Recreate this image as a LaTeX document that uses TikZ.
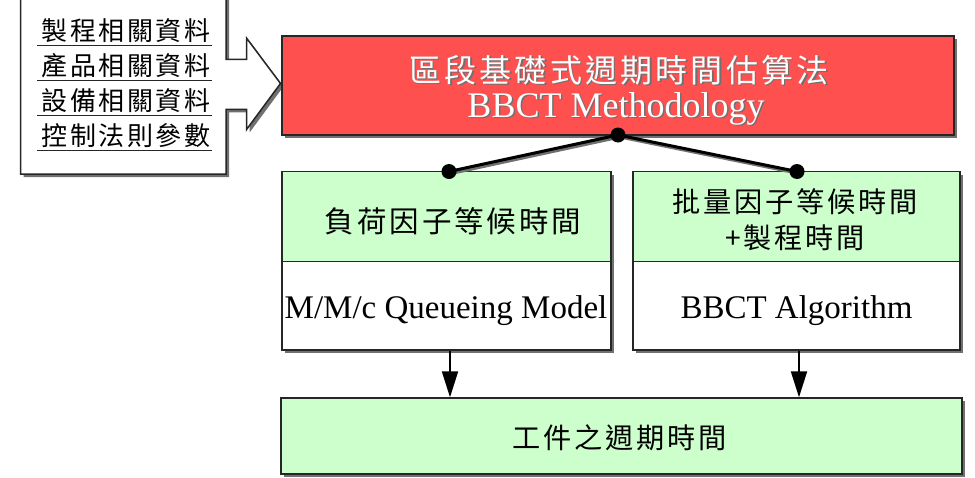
\documentclass[tikz,border=0pt]{standalone}
\usepackage{fontspec}
\setmainfont{Liberation Serif}
\newfontfamily\cjk[LetterSpace=10]{Noto Sans CJK TC}
\usetikzlibrary{arrows.meta,shadows}
\definecolor{redfill}{HTML}{FF5050}
\definecolor{greenfill}{HTML}{CCFFCC}
\definecolor{edge}{HTML}{262626}
\definecolor{shade}{HTML}{707070}
\begin{document}
\begin{tikzpicture}[x=1pt,y=-1pt,
  sh/.style={drop shadow={shadow xshift=3pt,shadow yshift=-3pt,fill=shade,opacity=1}},
  box/.style={draw=edge,line width=1.4pt,rectangle,inner sep=0pt,sh},
  redbox/.style={box,fill=redfill},
  greenbox/.style={box,fill=greenfill},
  whitebox/.style={box,fill=white},
  cjkA/.style={font=\cjk\fontsize{26}{30}\selectfont,inner sep=0pt},
  cjkR/.style={font=\cjk\fontsize{32}{36}\selectfont,inner sep=0pt},
  cjkG/.style={font=\cjk\fontsize{29.5}{34}\selectfont,inner sep=0pt},
  cjkB/.style={font=\cjk\fontsize{28.2}{33}\selectfont,inner sep=0pt},
  latin/.style={font=\fontsize{33}{38}\selectfont,inner sep=0pt,anchor=base},
  latinR/.style={font=\fontsize{36}{40}\selectfont,inner sep=0pt,anchor=base},
  uline/.style={draw=edge,line width=1.3pt},
  conn/.style={draw=black,line width=3pt},
  dotnode/.style={circle,fill=black,minimum size=15pt,inner sep=0pt},
  arr/.style={draw=black,line width=2pt,-{Triangle[width=16pt,length=26pt]}}
]
\clip (0,0) rectangle (975,477);
\fill[white] (0,0) rectangle (975,477);

% input callout
\draw[draw=edge,line width=1.5pt,fill=white,sh,line join=miter]
  (20.7,-10) -- (226,-10) -- (226,59.3) -- (246.7,59.3) -- (246.7,38.3)
  -- (280.5,83.5) -- (246.7,129.3) -- (246.7,109.3) -- (226,109.3)
  -- (226,174) -- (20.7,174) -- cycle;
\node[cjkA] (in1) at (126,31) {製程相關資料};
\node[cjkA] (in2) at (126,66) {產品相關資料};
\node[cjkA] (in3) at (126,101) {設備相關資料};
\node[cjkA] (in4) at (126,136) {控制法則參數};
\draw[uline] (37,45.7) -- (212,45.7);
\draw[uline] (37,80.5) -- (212,80.5);
\draw[uline] (37,115.7) -- (212,115.7);
\draw[uline] (37,150.7) -- (212,150.7);

% main red box
\node[redbox,minimum width=672pt,minimum height=99pt] (main) at (618,85.5) {};
\node[cjkR,text=shade] (mainzhS) at (620.5,71.5) {區段基礎式週期時間估算法};
\node[cjkR,text=white] (mainzh) at (619,70) {區段基礎式週期時間估算法};
\node[latinR,text=shade] (mainenS) at (617.5,118.5) {BBCT Methodology};
\node[latinR,text=white] (mainen) at (616,117) {BBCT Methodology};

% left column
\node[greenbox,minimum width=329pt,minimum height=90pt] (lg) at (446.5,216.7) {};
\node[whitebox,minimum width=329pt,minimum height=88.3pt] (lw) at (446.5,305.85) {};
\node[cjkG] (lgt) at (453,221.7) {負荷因子等候時間};
\node[latin] (lwt) at (446,318) {M/M/c Queueing Model};

% right column
\node[greenbox,minimum width=327pt,minimum height=90pt] (rg) at (796.5,216.7) {};
\node[whitebox,minimum width=327pt,minimum height=88.3pt] (rw) at (796.5,305.85) {};
\node[cjkB] (rgt1) at (795,201.7) {批量因子等候時間};
\node[cjkB] (rgt2) at (795,238) {+製程時間};
\node[latin] (rwt) at (796.5,318) {BBCT Algorithm};

% bottom box
\node[greenbox,minimum width=681pt,minimum height=76pt] (out) at (621.5,436) {};
\node[cjkB] (outt) at (620,438) {工件之週期時間};

% tree connectors
\coordinate (jc) at (618,135);
\coordinate (lc) at (449,171.5);
\coordinate (rc) at (797,171.5);
\draw[conn,draw=shade] ([shift={(2,2)}]jc) -- ([shift={(2,2)}]lc);
\draw[conn,draw=shade] ([shift={(2,2)}]jc) -- ([shift={(2,2)}]rc);
\draw[conn] (jc) -- (lc);
\draw[conn] (jc) -- (rc);
\node[dotnode] (jd) at (jc) {};
\node[dotnode] (ld) at (lc) {};
\node[dotnode] (rd) at (rc) {};

% arrows to output
\draw[arr] ([xshift=3.5pt]lw.south) -- ([xshift=3.5pt]lw.south |- out.north);
\draw[arr] ([xshift=2.5pt]rw.south) -- ([xshift=2.5pt]rw.south |- out.north);
\end{tikzpicture}
\end{document}
